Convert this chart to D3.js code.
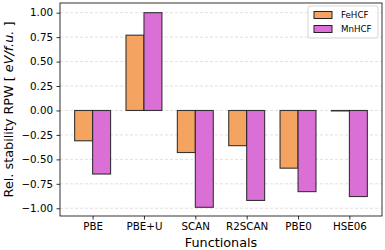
<!DOCTYPE html>
<html><head><meta charset="utf-8">
<script src="https://cdn.jsdelivr.net/npm/d3@7"></script>
<style>body{margin:0;background:#fff;} svg{display:block;font-family:"DejaVu Sans",sans-serif;}</style>
</head><body>
<svg id="c" width="385" height="250"></svg>
<script>
const categories = ["PBE","PBE+U","SCAN","R2SCAN","PBE0","HSE06"];
const seriesNames = ["FeHCF","MnHCF"];
const feValues = [-0.31, 0.77, -0.43, -0.36, -0.59, -0.005];
const mnValues = [-0.65, 1.00, -0.99, -0.92, -0.83, -0.88];
const colors = ["#F4A460","#DA70D6"];
const yTicks = [1.00,0.75,0.50,0.25,0.00,-0.25,-0.50,-0.75,-1.00];

const svg = d3.select("#c");
const L=60, R=382, T=3, B=216;
const barW = 0.35;
const xmin = -0.5 - 0.135, xmax = 5.5 + 0.135;
const x = d3.scaleLinear().domain([xmin, xmax]).range([L,R]);
const y = d3.scaleLinear().domain([-1.079, 1.099]).range([B,T]);

// grid
svg.append("g").selectAll("line").data(yTicks).join("line")
  .attr("x1",L).attr("x2",R).attr("y1",d=>y(d)).attr("y2",d=>y(d))
  .attr("stroke","#d9d9d9").attr("stroke-width",0.8).attr("stroke-dasharray","3,2");

const series = [feValues, mnValues];
series.forEach((vals,si)=>{
  const off = si===0 ? -barW/2 : barW/2;
  svg.append("g").selectAll("rect").data(vals).join("rect")
    .attr("x",(d,i)=>x(i+off-barW/2))
    .attr("width",x(barW)-x(0))
    .attr("y",d=>y(Math.max(0,d)))
    .attr("height",d=>Math.abs(y(d)-y(0)))
    .attr("fill",colors[si]).attr("stroke","#222").attr("stroke-opacity",0.9).attr("stroke-width",1.1);
});

// axes
const yAxis = d3.axisLeft(y).tickValues(yTicks).tickFormat(d=>d3.format(".2f")(d).replace("-","\u2212")).tickSize(3.5).tickPadding(3.5);
const gy = svg.append("g").attr("transform",`translate(${L},0)`).call(yAxis);
gy.select(".domain").remove();
gy.selectAll("text").attr("font-size",10.3).attr("fill","#000").attr("font-family","DejaVu Sans");
gy.selectAll("line").attr("stroke","#000").attr("stroke-width",0.8);

const xAxis = d3.axisBottom(x).tickValues(d3.range(categories.length)).tickFormat(i=>categories[i]).tickSize(3.5).tickPadding(3.5);
const gx = svg.append("g").attr("transform",`translate(0,${B})`).call(xAxis);
gx.select(".domain").remove();
gx.selectAll("text").attr("font-size",10.3).attr("fill","#000").attr("font-family","DejaVu Sans");
gx.selectAll("line").attr("stroke","#000").attr("stroke-width",0.8);

svg.append("rect").attr("x",L).attr("y",T).attr("width",R-L).attr("height",B-T)
  .attr("fill","none").attr("stroke","#000").attr("stroke-width",0.8);

// labels
svg.append("text").attr("x",(L+R)/2).attr("y",246.5).attr("text-anchor","middle")
  .attr("font-size",12.8).text("Functionals");
const yl = svg.append("text").attr("transform",`translate(12.5,${(T+B)/2}) rotate(-90)`)
  .attr("text-anchor","middle").attr("font-size",12.8).attr("xml:space","preserve");
yl.append("tspan").text("Rel. stability RPW [\u00a0");
yl.append("tspan").attr("font-style","italic").text("eV/f.u.");
yl.append("tspan").text("\u00a0]");

// legend
const lg = svg.append("g");
lg.append("rect").attr("x",308).attr("y",6).attr("width",70).attr("height",32)
  .attr("fill","#fff").attr("fill-opacity",0.8).attr("stroke","#ccc").attr("stroke-width",0.8).attr("rx",2);
seriesNames.forEach((n,i)=>{
  const yy = 15 + i*14;
  lg.append("rect").attr("x",314).attr("y",yy-3.5).attr("width",18).attr("height",7)
    .attr("fill",colors[i]).attr("stroke","#222").attr("stroke-width",1);
  lg.append("text").attr("x",341).attr("y",yy+3).attr("font-size",8.7).text(n);
});
</script>
</body></html>
